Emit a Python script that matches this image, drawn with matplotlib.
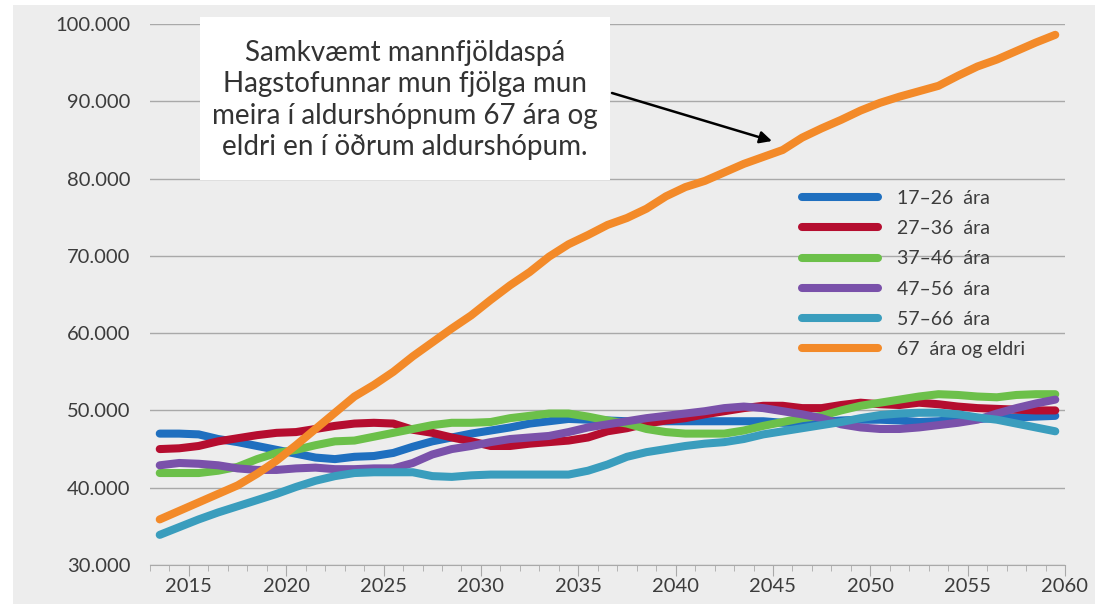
import matplotlib
matplotlib.use("Agg")
import matplotlib.pyplot as plt
from matplotlib.patches import Rectangle
from matplotlib.ticker import FuncFormatter, MultipleLocator

plt.rcParams['font.family'] = ['Lato', 'DejaVu Sans']

years = list(range(2014, 2061))

a17_26 = [47000, 47000, 46900, 46300, 45900, 45400, 44900, 44400, 43900, 43700,
          44000, 44100, 44500, 45300, 46000, 46500, 47000, 47400, 47800, 48300,
          48600, 48900, 48800, 48700, 48600, 48600, 48600, 48600, 48600, 48600,
          48600, 48600, 48400, 48400, 48500, 48700, 48800, 48800, 48700, 48500,
          48600, 48800, 48900, 49000, 49100, 49200, 49300]
a27_36 = [45000, 45100, 45400, 46000, 46400, 46800, 47100, 47200, 47600, 48000,
          48300, 48400, 48300, 47500, 47100, 46500, 46000, 45400, 45400, 45700,
          45900, 46100, 46500, 47300, 47700, 48300, 48700, 49000, 49500, 49900,
          50300, 50600, 50600, 50300, 50300, 50700, 51000, 50800, 50700, 51000,
          50800, 50500, 50300, 50200, 50100, 50000, 50000]
a37_46 = [41900, 41900, 41900, 42200, 42700, 43700, 44500, 44900, 45500, 46000,
          46100, 46600, 47100, 47600, 48100, 48400, 48400, 48500, 49000, 49300,
          49600, 49600, 49200, 48700, 48300, 47600, 47200, 47000, 47000, 47000,
          47400, 48000, 48500, 49000, 49300, 50000, 50600, 51000, 51400, 51800,
          52100, 52000, 51800, 51700, 52000, 52100, 52100]
a47_56 = [42900, 43200, 43100, 42900, 42500, 42300, 42300, 42500, 42600, 42400,
          42400, 42500, 42500, 43200, 44300, 45000, 45400, 45900, 46300, 46500,
          46700, 47200, 47800, 48200, 48600, 49000, 49300, 49600, 49900, 50300,
          50500, 50300, 49900, 49500, 49000, 48200, 47800, 47600, 47600, 47800,
          48100, 48400, 48800, 49600, 50300, 50900, 51400]
a57_66 = [33900, 34900, 35900, 36800, 37600, 38400, 39200, 40100, 40900, 41500,
          41900, 42000, 42000, 42000, 41500, 41400, 41600, 41700, 41700, 41700,
          41700, 41700, 42200, 43000, 44000, 44600, 45000, 45400, 45700, 45900,
          46300, 46900, 47300, 47700, 48100, 48500, 49000, 49400, 49600, 49700,
          49700, 49500, 49100, 48800, 48300, 47800, 47300]
a67_plus = [35900, 37000, 38100, 39200, 40300, 41800, 43500, 45500, 47600, 49700,
            51800, 53300, 55000, 57000, 58800, 60600, 62300, 64300, 66200, 67900,
            69900, 71500, 72700, 74000, 74900, 76100, 77700, 78900, 79700, 80800,
            81900, 82800, 83700, 85300, 86500, 87600, 88800, 89800, 90600, 91300,
            92000, 93300, 94500, 95400, 96500, 97600, 98600]

labels = ['17–26  ára', '27–36  ára', '37–46  ára', '47–56  ára', '57–66  ára',
          '67  ára og eldri']
colors = ['#1f6fbf', '#b50d2f', '#6cc04a', '#7a51aa', '#3a9dbd', '#f38a29']
series = [a17_26, a27_36, a37_46, a47_56, a57_66, a67_plus]

note = ('Samkvæmt mannfjöldaspá\nHagstofunnar mun fjölga mun\n'
        'meira í aldurshópnum 67 ára og\neldri en í öðrum aldurshópum.')

bg = '#ededed'
W, H = 1109, 604
fig = plt.figure(figsize=(W / 100, H / 100), dpi=100, facecolor='white')
fig.add_artist(Rectangle((13 / W, 0), (1095 - 13) / W, (H - 5) / H,
                         transform=fig.transFigure, fc=bg, ec='none', zorder=-10))

ax = fig.add_axes([150 / W, (H - 565) / H, (1065 - 150) / W, (565 - 24) / H])
ax.set_facecolor(bg)

# categories sit between the yearly tick marks
xs = [y - 0.5 for y in years]
for vals, lab, c in zip(series, labels, colors):
    ax.plot(xs, vals, color=c, lw=5.8, label=lab, solid_capstyle='round',
            solid_joinstyle='round', zorder=3)

ax.set_xlim(2013, 2060)
ax.set_ylim(30000, 100000)
ax.yaxis.set_major_locator(MultipleLocator(10000))
ax.yaxis.set_major_formatter(FuncFormatter(lambda v, p: f'{int(v):,}'.replace(',', '.')))
ax.xaxis.set_major_locator(MultipleLocator(5))
ax.xaxis.set_minor_locator(MultipleLocator(1))
ax.grid(axis='y', color='#a9a9a9', lw=1)
ax.set_axisbelow(True)
for s in ['top', 'right', 'left']:
    ax.spines[s].set_visible(False)
ax.spines['bottom'].set_color('#a9a9a9')
ax.tick_params(axis='y', length=0, pad=14, labelsize=14.5, labelcolor='#3c3c3c')
ax.tick_params(axis='x', which='major', length=8, color='#a9a9a9', pad=1,
               labelsize=14.5, labelcolor='#3c3c3c')
ax.tick_params(axis='x', which='minor', length=4, color='#a9a9a9')

leg = ax.legend(loc='upper left', bbox_to_anchor=((802 - 150) / (1065 - 150), 1 - (190 - 24) / (565 - 24)),
                frameon=False, fontsize=14, handlelength=3.9, handletextpad=1.0,
                labelspacing=0.68, borderaxespad=0, borderpad=0)
for t in leg.get_texts():
    t.set_color('#3c3c3c')

# note box and arrow
fig.add_artist(Rectangle((200 / W, 1 - 180 / H), (610 - 200) / W, (180 - 17) / H,
                         transform=fig.transFigure, fc='white', ec='none', zorder=5))
fig.text(405 / W, 1 - 100 / H, note, ha='center', va='center', fontsize=20,
         color='#333333', linespacing=1.25, zorder=6)
ax.annotate('', xy=(772 / W, 1 - 141 / H), xycoords='figure fraction',
            xytext=(612 / W, 1 - 93 / H), textcoords='figure fraction',
            arrowprops=dict(arrowstyle='-|>', color='black', lw=1.8,
                            mutation_scale=18, shrinkA=0, shrinkB=0), zorder=6)

fig.savefig('out.png', dpi=100, facecolor='white')
